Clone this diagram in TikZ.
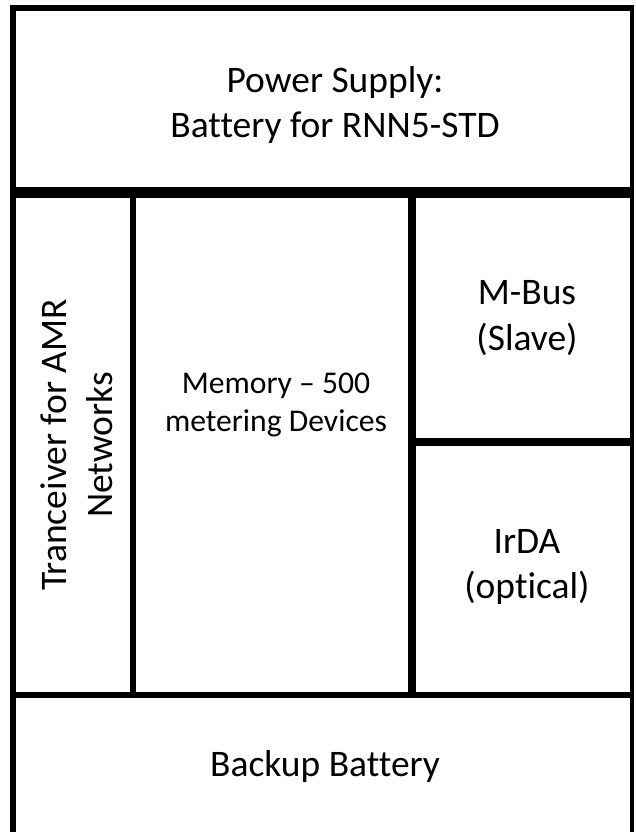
\documentclass[tikz,border=0pt]{standalone}
\usepackage{fontspec}
\setmainfont{Carlito}[Ligatures={TeX,NoCommon}]
\usetikzlibrary{positioning}

\begin{document}
\begin{tikzpicture}[x=0.03cm,y=-0.03cm,
  rule/.style={draw=black,line width=0.18cm},
  edgerule/.style={draw=black,line width=0.12cm},
  midrule/.style={draw=black,line width=0.24cm},
  heavyrule/.style={draw=black,line width=0.33cm},
  label/.style={align=center,inner sep=0pt,font=\fontsize{32}{39}\selectfont},
  smalllabel/.style={align=center,inner sep=0pt,font=\fontsize{27}{32.5}\selectfont}
]
\useasboundingbox (0,0) rectangle (635,832);
% grid corners
\coordinate (topleft) at (13,8);
\coordinate (topright) at (632,8);
\coordinate (botleft) at (13,832);
\coordinate (botright) at (632,832);
% outer frame
\draw[rule] (13,5) -- (botleft);
\draw[rule] (10,8) -- (634,8);
\draw[edgerule] (632,5) -- (botright);
% inner rules
\coordinate (splitL) at (13,192.5);
\coordinate (splitR) at (632,192.5);
\draw[heavyrule] (splitL) -- (splitR);
\coordinate (baseL) at (13,695);
\coordinate (baseR) at (632,695);
\draw[rule] (baseL) -- (baseR);
\draw[rule] (133,192.5) -- (133,695);
\draw[midrule] (412,192.5) -- (412,695);
\draw[midrule] (412,442) -- (632,442);
% labels
\node[label] (power) at (335,105) {Power Supply:\\Battery for RNN5-STD};
\node[label,rotate=90] (tranceiver) at (77,445) {Tranceiver for AMR\\Networks};
\node[smalllabel] (memory) at (276,405) {Memory – 500\\metering Devices};
\node[label] (mbus) at (527,318) {M-Bus\\(Slave)};
\node[label] (irda) at (527,567) {IrDA\\(optical)};
\node[label] (backup) at (325,766) {Backup Battery};
\end{tikzpicture}
\end{document}
